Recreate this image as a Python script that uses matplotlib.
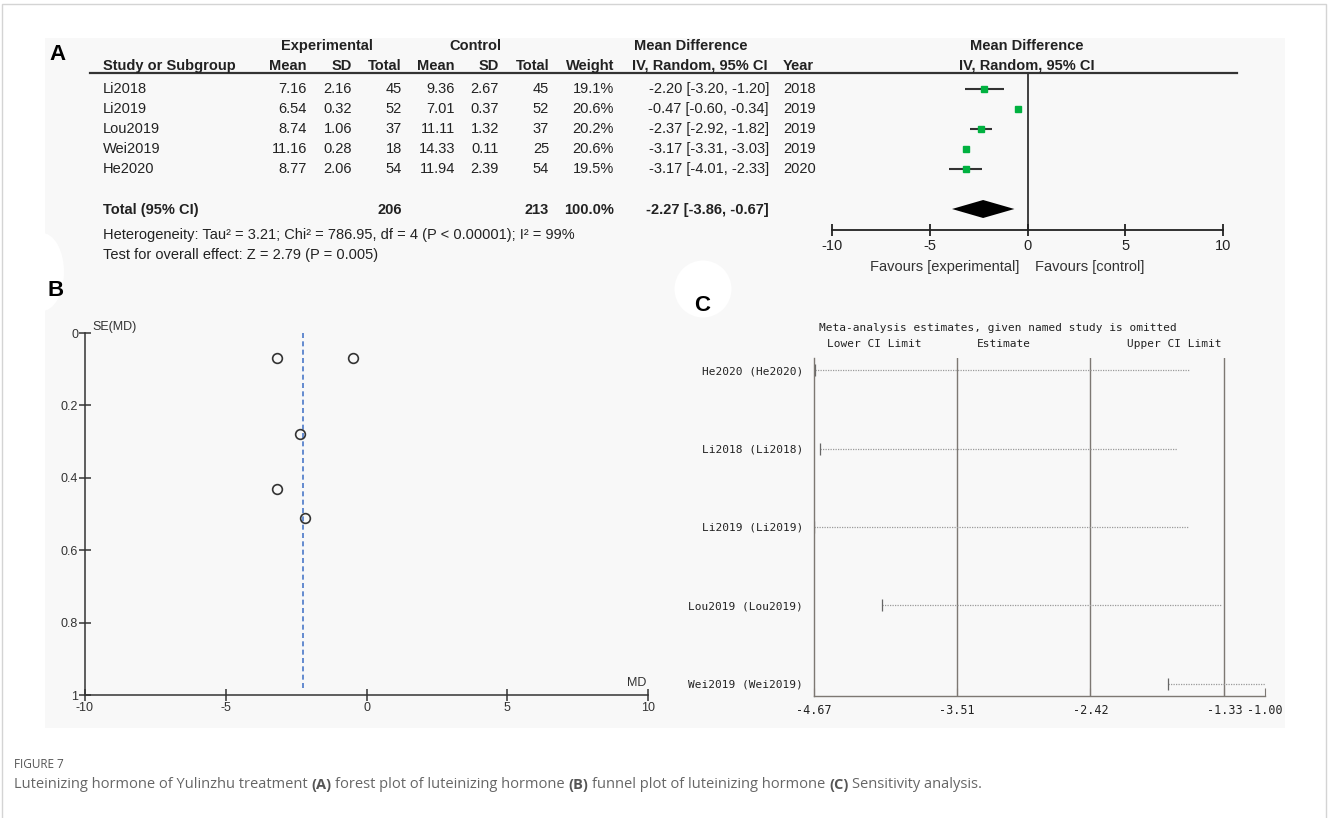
import matplotlib
matplotlib.use('Agg')
import matplotlib.pyplot as plt
from matplotlib.patches import Rectangle, Ellipse
from matplotlib.lines import Line2D

# ---- panel A: forest plot data
studies = ['Li2018', 'Li2019', 'Lou2019', 'Wei2019', 'He2020']
exp_mean = [7.16, 6.54, 8.74, 11.16, 8.77]
exp_sd = [2.16, 0.32, 1.06, 0.28, 2.06]
exp_n = [45, 52, 37, 18, 54]
ctl_mean = [9.36, 7.01, 11.11, 14.33, 11.94]
ctl_sd = [2.67, 0.37, 1.32, 0.11, 2.39]
ctl_n = [45, 52, 37, 25, 54]
weight = [19.1, 20.6, 20.2, 20.6, 19.5]
md = [-2.20, -0.47, -2.37, -3.17, -3.17]
md_lo = [-3.20, -0.60, -2.92, -3.31, -4.01]
md_hi = [-1.20, -0.34, -1.82, -3.03, -2.33]
years = [2018, 2019, 2019, 2019, 2020]
total_exp, total_ctl = 206, 213
pooled = (-2.27, -3.86, -0.67)
forest_ticks = [-10, -5, 0, 5, 10]

# ---- panel B: funnel plot (SE)
se_md = [0.51, 0.07, 0.28, 0.07, 0.43]
funnel_yticks = [0, 0.2, 0.4, 0.6, 0.8, 1]
funnel_ylabels = ['0', '0.2', '0.4', '0.6', '0.8', '1']

# ---- panel C: sensitivity analysis
omitted = ['He2020 (He2020)', 'Li2018 (Li2018)', 'Li2019 (Li2019)',
           'Lou2019 (Lou2019)', 'Wei2019 (Wei2019)']
omit_lo = [-4.66, -4.62, -4.67, -4.12, -1.79]
omit_hi = [-1.62, -1.72, -1.62, -1.36, -1.00]
c_ticks = [-4.67, -3.51, -2.42, -1.33, -1.00]
c_ticklabels = ['-4.67', '-3.51', '-2.42', '-1.33', '-1.00']

plt.rcParams['font.family'] = ['Liberation Sans', 'DejaVu Sans']

W, H = 1328, 818
fig = plt.figure(figsize=(W / 100, H / 100), dpi=100)
fig.patch.set_facecolor('white')


def add_ax(x0, y0, x1, y1):
    ax = fig.add_axes([x0 / W, 1 - y1 / H, (x1 - x0) / W, (y1 - y0) / H])
    ax.set_facecolor('none')
    return ax


def ftext(x, y, s, **kw):
    kw.setdefault('va', 'center')
    return fig.text(x / W, 1 - y / H, s, **kw)


def fline(x0, x1, y0, y1, **kw):
    fig.add_artist(Line2D([x0 / W, x1 / W], [1 - y0 / H, 1 - y1 / H],
                          transform=fig.transFigure, **kw))


# frame and panel background
fig.add_artist(Rectangle((2 / W, -0.01), 1324 / W, 1.01 - 4 / H, transform=fig.transFigure,
                         fill=False, ec='#d4d4d4', lw=1))
fig.add_artist(Rectangle((45 / W, 1 - 728 / H), 1240 / W, 690 / H, transform=fig.transFigure,
                         fc='#f8f8f8', ec='none', zorder=0))
fig.add_artist(Ellipse((42 / W, 1 - 272 / H), 44 / W, 78 / H, transform=fig.transFigure,
                       fc='white', ec='none', zorder=0.5))
fig.add_artist(Ellipse((703 / W, 1 - 289 / H), 57 / W, 57 / H, transform=fig.transFigure,
                       fc='white', ec='none', zorder=0.5))

ink = '#222222'
fs = 10.5

# ================= panel A =================
ftext(58, 55, 'A', fontsize=16, fontweight='bold', ha='center')
row_y = [89 + 20 * i for i in range(len(studies))]
tot_y = 210

ftext(327, 46, 'Experimental', fontsize=fs, fontweight='bold', ha='center', color=ink)
ftext(475, 46, 'Control', fontsize=fs, fontweight='bold', ha='center', color=ink)
ftext(691, 46, 'Mean Difference', fontsize=fs, fontweight='bold', ha='center', color=ink)
ftext(1027, 46, 'Mean Difference', fontsize=fs, fontweight='bold', ha='center', color=ink)

hdr = [('Study or Subgroup', 103, 'left'), ('Mean', 307, 'right'), ('SD', 352, 'right'),
       ('Total', 402, 'right'), ('Mean', 455, 'right'), ('SD', 499, 'right'),
       ('Total', 549, 'right'), ('Weight', 614, 'right'), ('IV, Random, 95% CI', 768, 'right'),
       ('Year', 783, 'left'), ('IV, Random, 95% CI', 1027, 'center')]
for s, x, ha in hdr:
    ftext(x, 66, s, fontsize=fs, fontweight='bold', ha=ha, color=ink)
fline(90, 1237, 73, 73, color='#333333', lw=1.6)

for i, y in enumerate(row_y):
    ftext(103, y, studies[i], fontsize=fs, color=ink)
    ftext(307, y, f'{exp_mean[i]:.2f}', fontsize=fs, ha='right', color=ink)
    ftext(352, y, f'{exp_sd[i]:.2f}', fontsize=fs, ha='right', color=ink)
    ftext(402, y, f'{exp_n[i]}', fontsize=fs, ha='right', color=ink)
    ftext(455, y, f'{ctl_mean[i]:.2f}', fontsize=fs, ha='right', color=ink)
    ftext(499, y, f'{ctl_sd[i]:.2f}', fontsize=fs, ha='right', color=ink)
    ftext(549, y, f'{ctl_n[i]}', fontsize=fs, ha='right', color=ink)
    ftext(614, y, f'{weight[i]:.1f}%', fontsize=fs, ha='right', color=ink)
    ftext(769, y, f'{md[i]:.2f} [{md_lo[i]:.2f}, {md_hi[i]:.2f}]', fontsize=fs, ha='right', color=ink)
    ftext(783, y, f'{years[i]}', fontsize=fs, color=ink)

ftext(103, tot_y, 'Total (95% CI)', fontsize=fs, fontweight='bold', color=ink)
ftext(402, tot_y, f'{total_exp}', fontsize=fs, fontweight='bold', ha='right', color=ink)
ftext(549, tot_y, f'{total_ctl}', fontsize=fs, fontweight='bold', ha='right', color=ink)
ftext(614, tot_y, '100.0%', fontsize=fs, fontweight='bold', ha='right', color=ink)
ftext(769, tot_y, f'{pooled[0]:.2f} [{pooled[1]:.2f}, {pooled[2]:.2f}]', fontsize=fs,
      fontweight='bold', ha='right', color=ink)
ftext(103, 235, 'Heterogeneity: Tau\u00b2 = 3.21; Chi\u00b2 = 786.95, df = 4 (P < 0.00001); I\u00b2 = 99%',
      fontsize=fs, color=ink)
ftext(103, 255, 'Test for overall effect: Z = 2.79 (P = 0.005)', fontsize=fs, color=ink)

axA = add_ax(832, 73, 1223, 230)
rows = list(range(len(studies)))
axA.set_xlim(-10, 10)
axA.set_ylim(7.05, -0.8)
axA.axvline(0, color=ink, lw=1.2)
axA.hlines(rows, md_lo, md_hi, color='#333333', lw=1.5)
axA.plot(md, rows, 's', color='#00b140', ms=5, mec='#00b140')
axA.fill([pooled[1], pooled[0], pooled[2], pooled[0]], [6, 5.55, 6, 6.45], color='black', lw=0)
for s in ['left', 'right', 'top']:
    axA.spines[s].set_visible(False)
axA.spines['bottom'].set_color(ink)
axA.spines['bottom'].set_linewidth(1.3)
axA.set_yticks([])
axA.set_xticks(forest_ticks)
axA.set_xticklabels([str(t) for t in forest_ticks])
axA.tick_params(axis='x', direction='inout', length=9, width=1.3, color=ink,
                labelsize=fs, labelcolor=ink, pad=2)
ftext(1019, 267, 'Favours [experimental]', fontsize=fs, ha='right', color='#333333')
ftext(1035, 267, 'Favours [control]', fontsize=fs, ha='left', color='#333333')

# ================= panel B =================
ftext(56, 290, 'B', fontsize=16, fontweight='bold', ha='center')
axB = add_ax(85, 333, 648, 695)
axB.set_xlim(-10, 10)
axB.set_ylim(1, 0)
axB.plot([pooled[0], pooled[0]], [0, 0.99], color='#4a78c8', lw=1.2, ls=(0, (3, 2)))
axB.plot(md, se_md, 'o', mfc='none', mec='#333333', mew=1.2, ms=7)
for s in ['right', 'top']:
    axB.spines[s].set_visible(False)
for s in ['left', 'bottom']:
    axB.spines[s].set_color('#333333')
    axB.spines[s].set_linewidth(1.1)
axB.set_xticks(forest_ticks)
axB.set_xticklabels([str(t) for t in forest_ticks])
axB.set_yticks(funnel_yticks)
axB.set_yticklabels(funnel_ylabels)
axB.tick_params(direction='inout', length=8, width=1.1, color='#333333',
                labelsize=9, labelcolor='#333333', pad=1)
ftext(92, 327, 'SE(MD)', fontsize=9, color='#333333')
ftext(646, 683, 'MD', fontsize=9, ha='right', color='#333333')

# ================= panel C =================
mono = 'DejaVu Sans Mono'
ftext(702, 305, 'C', fontsize=16, fontweight='bold', ha='center')
ftext(998, 328, 'Meta-analysis estimates, given named study is omitted', fontsize=8,
      family=mono, ha='center', color=ink)
ftext(874, 344, 'Lower CI Limit', fontsize=8, family=mono, ha='center', color=ink)
ftext(1004, 344, 'Estimate', fontsize=8, family=mono, ha='center', color=ink)
ftext(1174, 344, 'Upper CI Limit', fontsize=8, family=mono, ha='center', color=ink)

axC = add_ax(814, 358, 1265, 696)
axC.set_xlim(c_ticks[0], c_ticks[-1])
axC.set_ylim(4.153, -0.153)
for v in c_ticks[1:-1]:
    axC.axvline(v, color='#7d7873', lw=1.0)
crow = list(range(len(omitted)))
axC.hlines(crow, omit_lo, omit_hi, color='#9a9a9a', lw=0.9, ls=(0, (1, 1)))
axC.plot(omit_lo, crow, '|', color='#666666', ms=8, mew=0.9)
for s in ['right', 'top']:
    axC.spines[s].set_visible(False)
for s in ['left', 'bottom']:
    axC.spines[s].set_color('#7d7873')
    axC.spines[s].set_linewidth(1.0)
axC.set_yticks(crow)
axC.set_yticklabels(omitted, family=mono, fontsize=8, color=ink)
axC.tick_params(axis='y', length=0, pad=8)
axC.set_xticks(c_ticks)
axC.set_xticklabels(c_ticklabels, family=mono, fontsize=8.5, color=ink)
axC.tick_params(axis='x', direction='in', length=6, color='#7d7873', pad=6)

# ================= caption =================
cap_font = ['Open Sans', 'DejaVu Sans']
ftext(14, 764, 'FIGURE 7', fontsize=8.5, family=cap_font, color='#555555')
parts = [('Luteinizing hormone of Yulinzhu treatment', False), ('(A)', True),
         ('forest plot of luteinizing hormone', False), ('(B)', True),
         ('funnel plot of luteinizing hormone', False), ('(C)', True),
         ('Sensitivity analysis.', False)]
r = fig.canvas.get_renderer()
probe = ftext(0, -50, 'a a', fontsize=10.5, family=cap_font)
probe2 = ftext(0, -50, 'aa', fontsize=10.5, family=cap_font)
space = probe.get_window_extent(r).width - probe2.get_window_extent(r).width
probe.remove()
probe2.remove()
x = 14
for s, b in parts:
    t = ftext(x, 785, s, fontsize=10.5, family=cap_font, color='#555555' if b else '#666666',
              fontweight='bold' if b else 'normal')
    x += t.get_window_extent(r).width + space

fig.savefig('out.png', dpi=100)
